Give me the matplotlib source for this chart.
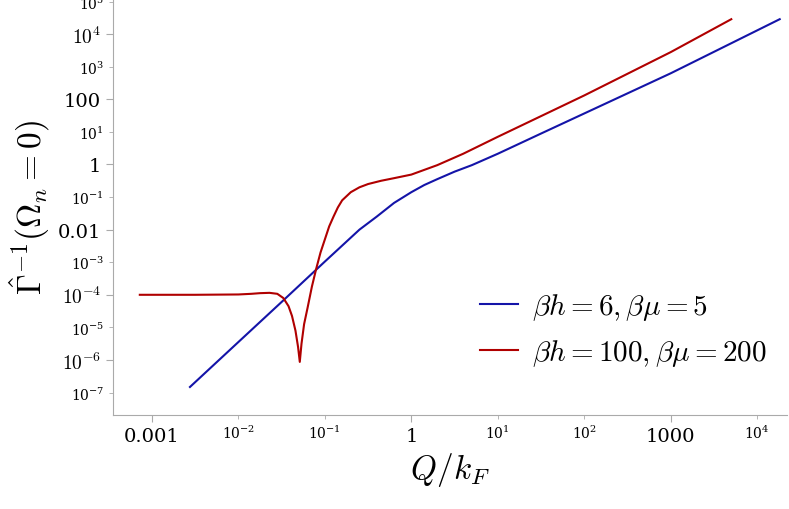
import numpy as np
import matplotlib
matplotlib.use("Agg")
import matplotlib.pyplot as plt
from matplotlib.ticker import FixedLocator, NullLocator, LogLocator

plt.rcParams['mathtext.fontset'] = 'cm'
plt.rcParams['font.family'] = 'DejaVu Serif'

# log10(Q/kF), log10(Gamma^-1)
blue_lx = [-2.56, -2.0, -1.5, -1.0, -0.6, -0.4, -0.2, 0.0, 0.15, 0.3, 0.5, 0.7, 1.0, 1.5, 3.0, 4.26]
blue_ly = [-6.83, -5.45, -4.22, -2.98, -2.0, -1.6, -1.18, -0.85, -0.63, -0.45, -0.22, -0.02, 0.33, 0.95, 2.8, 4.46]
red_lx = [-3.14, -2.5, -2.0, -1.85, -1.75, -1.64, -1.55, -1.48, -1.42, -1.38, -1.34, -1.31, -1.29,
          -1.27, -1.24, -1.2, -1.15, -1.1, -1.05, -1.0, -0.95, -0.9, -0.85, -0.8, -0.7, -0.6,
          -0.5, -0.35, -0.2, 0.0, 0.3, 0.6, 1.0, 2.0, 3.0, 3.7]
red_ly = [-4.0, -4.0, -3.99, -3.97, -3.95, -3.94, -3.97, -4.1, -4.35, -4.65, -5.1, -5.6, -6.06,
          -5.5, -4.9, -4.4, -3.75, -3.2, -2.7, -2.3, -1.9, -1.6, -1.32, -1.1, -0.85, -0.7,
          -0.6, -0.5, -0.42, -0.31, -0.02, 0.33, 0.85, 2.12, 3.45, 4.46]
xticks = [1e-3, 1, 1e3]
xticklabels = ["0.001", "1", "1000"]
yticks = [1e-6, 1e-4, 1e-2, 1, 1e2, 1e4]
yticklabels = [r"$10^{-6}$", r"$10^{-4}$", "0.01", "1", "100", r"$10^{4}$"]

fig = plt.figure(figsize=(7.89, 5.10), dpi=100)
ax = fig.add_axes([113/789, 94/510, 1 - 113/789 - 0.003, 1 - 94/510])
ax.plot(10**np.array(blue_lx), 10**np.array(blue_ly), color='#1414a8', lw=1.5,
        label=r"$\beta h=6,\beta\mu=5$")
ax.plot(10**np.array(red_lx), 10**np.array(red_ly), color='#b00000', lw=1.5,
        label=r"$\beta h=100,\beta\mu=200$")
ax.set_xscale('log'); ax.set_yscale('log')
ax.set_xlim(10**-3.45, 10**4.34)
ax.set_ylim(10**-7.69, 10**5.08)
ax.xaxis.set_major_locator(FixedLocator(xticks))
ax.set_xticklabels(xticklabels, fontsize=14)
ax.yaxis.set_major_locator(FixedLocator(yticks))
ax.set_yticklabels(yticklabels, fontsize=14)
ax.xaxis.set_minor_locator(FixedLocator([10**k for k in range(-3, 5)]))
ax.yaxis.set_minor_locator(FixedLocator([10**k for k in range(-7, 6, 2)]))
for s in ['top', 'right']:
    ax.spines[s].set_visible(False)
for s in ['left', 'bottom']:
    ax.spines[s].set_color('#aaaaaa')
ax.tick_params(which='major', color='#aaaaaa', length=5)
ax.tick_params(which='minor', color='#aaaaaa', length=3)
ax.set_xlabel(r"$Q/k_F$", fontsize=24)
ax.set_ylabel(r"$\hat{\Gamma}^{-1}(\Omega_n=0)$", fontsize=24)
ax.legend(loc='lower right', frameon=False, fontsize=21, handlelength=1.3,
          handletextpad=0.5, labelspacing=0.5, bbox_to_anchor=(1.01, 0.05))
fig.savefig("out.png", dpi=100)
